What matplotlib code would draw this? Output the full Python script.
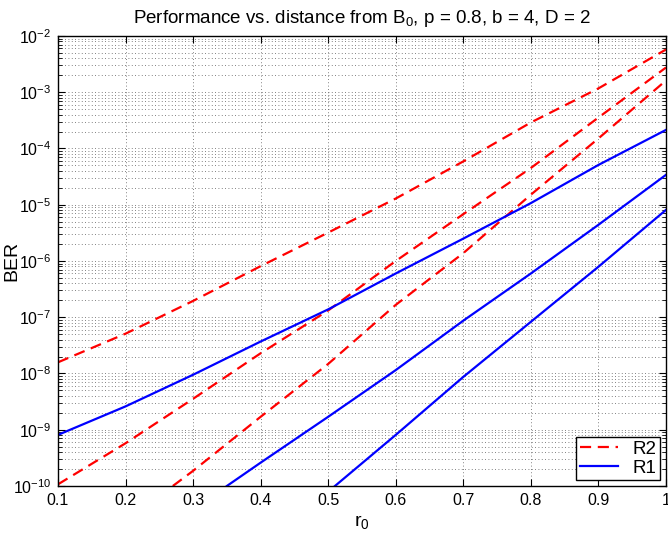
import numpy as np
import matplotlib
matplotlib.use('Agg')
import matplotlib.pyplot as plt
from matplotlib.ticker import LogLocator, NullFormatter

plt.rcParams['font.family'] = ['Liberation Sans', 'DejaVu Sans']
plt.rcParams['mathtext.fontset'] = 'custom'
plt.rcParams['mathtext.rm'] = 'Liberation Sans'
plt.rcParams['mathtext.it'] = 'Liberation Sans'

## R2 curves (red dashed)
r_r2a = [0.1, 0.2, 0.3, 0.4, 0.5, 0.6, 0.7, 0.8, 0.9, 1.0]
ber_r2a = [1.58e-8, 5.1e-8, 1.95e-7, 8.1e-7, 3.2e-6, 1.29e-5, 5.9e-5, 2.9e-4, 1.17e-3, 5.75e-3]
r_r2b = [0.1, 0.2, 0.3, 0.4, 0.5, 0.6, 0.7, 0.8, 0.9, 1.0]
ber_r2b = [1.07e-10, 5.75e-10, 3.55e-9, 2.29e-8, 1.32e-7, 1.0e-6, 6.8e-6, 4.5e-5, 3.55e-4, 2.75e-3]
r_r2c = [0.27, 0.3, 0.4, 0.5, 0.6, 0.7, 0.8, 0.9, 1.0]
ber_r2c = [1.0e-10, 1.86e-10, 1.7e-9, 1.48e-8, 1.66e-7, 1.38e-6, 1.51e-5, 1.51e-4, 1.62e-3]

## R1 curves (blue solid)
r_r1a = [0.1, 0.2, 0.3, 0.4, 0.5, 0.6, 0.7, 0.8, 0.9, 1.0]
ber_r1a = [8.1e-10, 2.6e-9, 9.5e-9, 3.7e-8, 1.38e-7, 6.0e-7, 2.5e-6, 1.07e-5, 5.1e-5, 2.14e-4]
r_r1b = [0.35, 0.4, 0.5, 0.6, 0.7, 0.8, 0.9, 1.0]
ber_r1b = [1.0e-10, 2.6e-10, 1.7e-9, 1.15e-8, 8.7e-8, 6.0e-7, 4.4e-6, 3.4e-5]
r_r1c = [0.51, 0.6, 0.7, 0.8, 0.9, 1.0]
ber_r1c = [1.0e-10, 8.1e-10, 8.7e-9, 8.3e-8, 7.9e-7, 8.1e-6]

xticks = [0.1, 0.2, 0.3, 0.4, 0.5, 0.6, 0.7, 0.8, 0.9, 1.0]
xticklabels = ['0.1', '0.2', '0.3', '0.4', '0.5', '0.6', '0.7', '0.8', '0.9', '1']

fig = plt.figure(figsize=(6.68, 5.33), dpi=100)
ax = fig.add_axes([0.0868, 0.0882, 0.9102, 0.8443])

red = dict(color='red', lw=1.6, dashes=(5, 3))
blue = dict(color='blue', lw=1.6)
ax.plot(r_r2a, ber_r2a, label='R2', **red)
ax.plot(r_r2b, ber_r2b, **red)
ax.plot(r_r2c, ber_r2c, **red)
ax.plot(r_r1a, ber_r1a, label='R1', **blue)
ax.plot(r_r1b, ber_r1b, **blue)
ax.plot(r_r1c, ber_r1c, **blue)

ax.set_yscale('log')
ax.set_xlim(0.1, 1.0)
ax.set_ylim(1e-10, 1e-2)
ax.set_xticks(xticks)
ax.set_xticklabels(xticklabels)
ax.yaxis.set_major_locator(LogLocator(base=10, numticks=20))
ax.yaxis.set_minor_locator(LogLocator(base=10, subs=np.arange(2, 10), numticks=100))
ax.yaxis.set_minor_formatter(NullFormatter())

ax.tick_params(which='both', direction='in', top=True, right=True, labelsize=11.5)
ax.tick_params(which='major', length=5, width=0.8, pad=5)
ax.tick_params(which='minor', length=3, width=0.6)
for s in ax.spines.values():
    s.set_linewidth(1.0)

grid_style = dict(color='0.35', lw=0.6, dashes=(1, 3))
ax.grid(which='major', axis='both', **grid_style)
ax.grid(which='minor', axis='y', **grid_style)
ax.set_axisbelow(True)

ax.set_title('Performance vs. distance from B$_0$, p = 0.8, b = 4, D = 2', fontsize=13.5, pad=9)
ax.set_xlabel('r$_0$', fontsize=14, labelpad=4)
ax.set_ylabel('BER', fontsize=14)
ax.yaxis.set_label_coords(-0.062, 0.5)

leg = ax.legend(loc='lower right', fontsize=13.5, fancybox=False, framealpha=1,
                edgecolor='black', borderaxespad=0.3, handlelength=2.0,
                borderpad=0.2, labelspacing=0.1, handletextpad=0.8)
leg.get_frame().set_linewidth(1.0)

fig.savefig('out.png', dpi=100)
